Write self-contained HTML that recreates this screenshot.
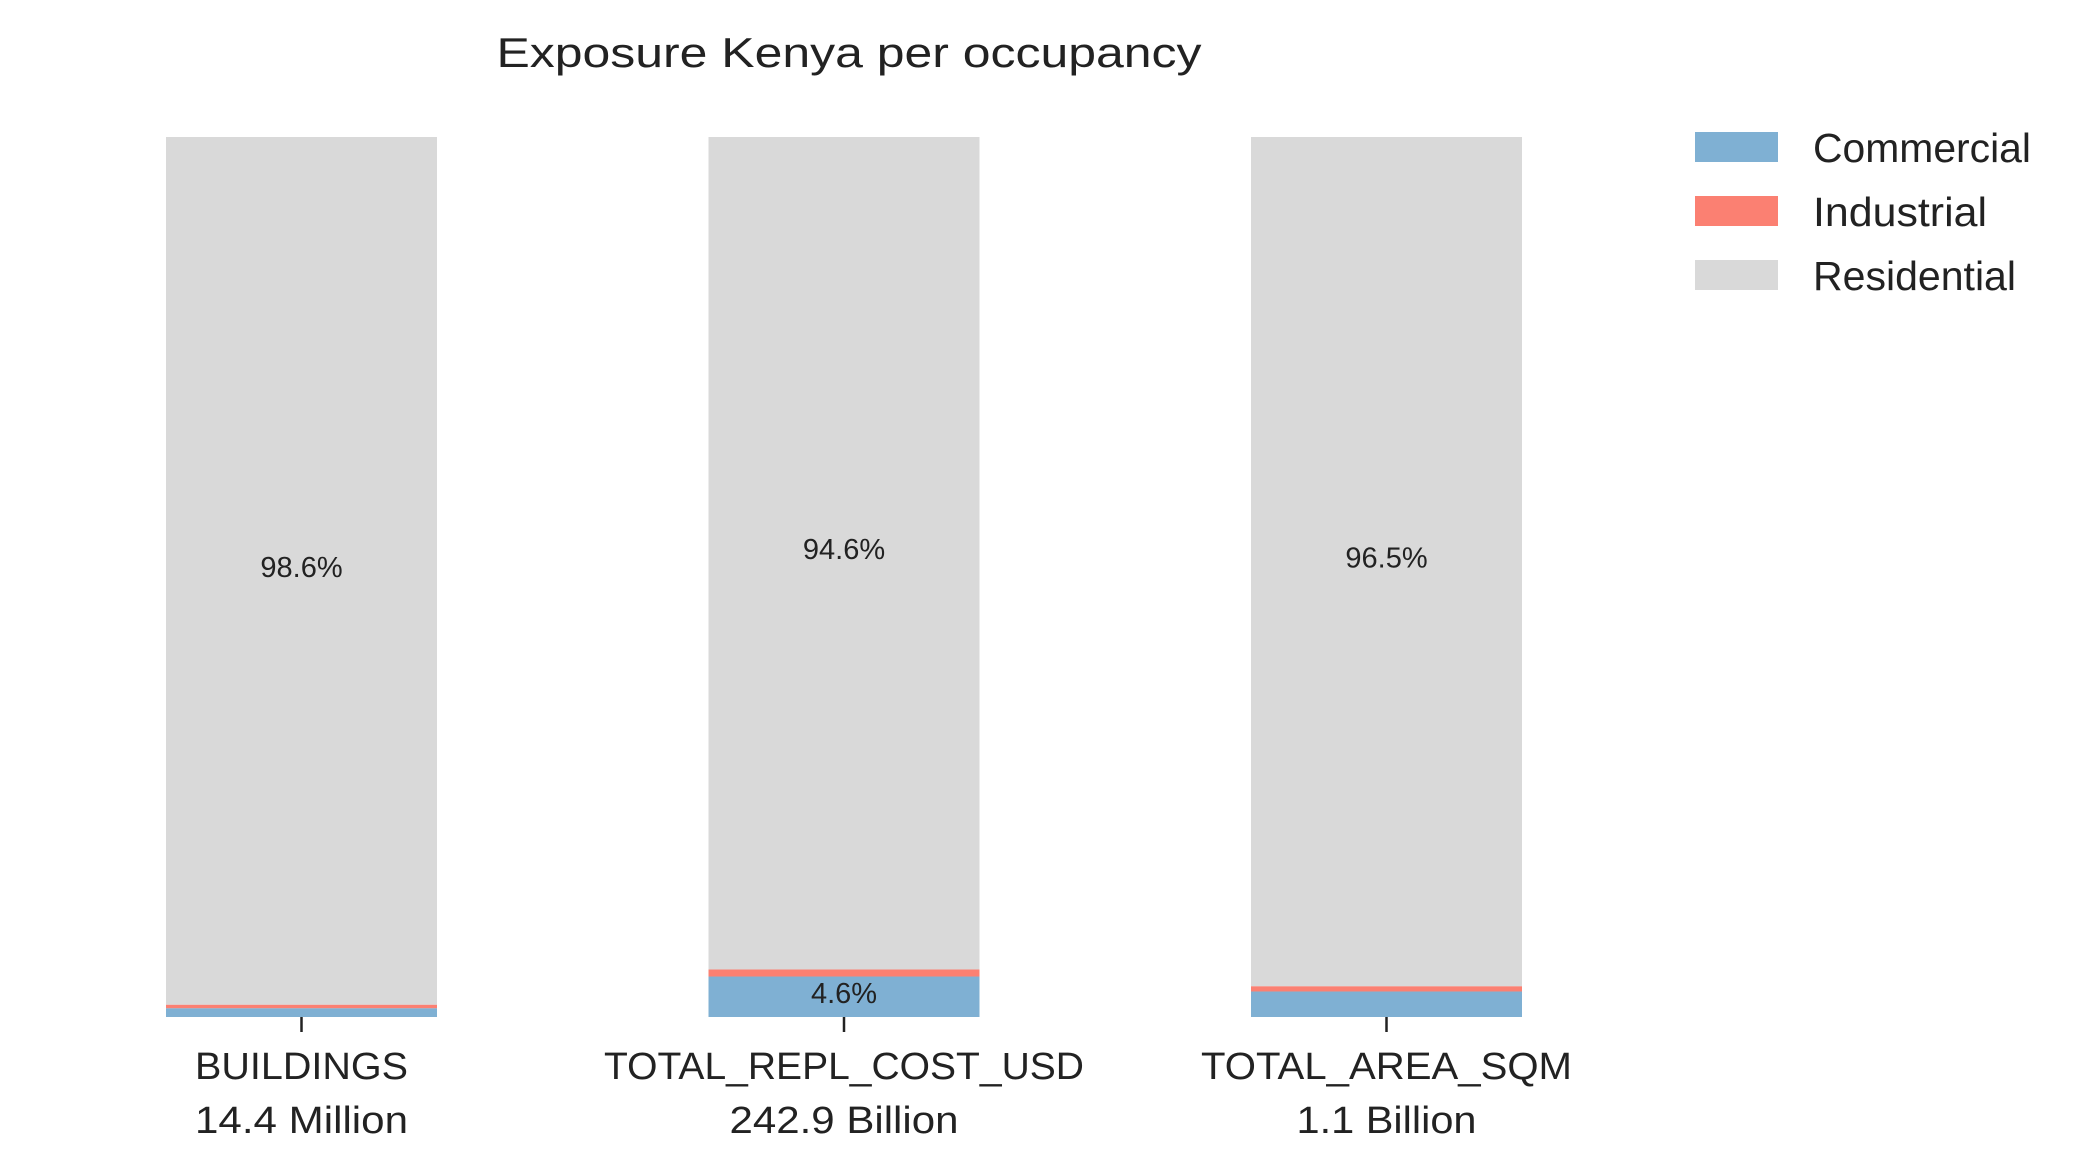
<!DOCTYPE html>
<html><head><meta charset="utf-8"><style>
html,body{margin:0;padding:0;background:#fff;}
svg{display:block;font-family:"Liberation Sans",sans-serif;}
</style></head><body>
<svg id="chart" width="2081" height="1174" viewBox="0 0 2081 1174">
<text x="849" y="67" text-anchor="middle" font-size="42" textLength="705" lengthAdjust="spacingAndGlyphs" fill="#222">Exposure Kenya per occupancy</text>
<g id="bars"></g>
<g id="legend"></g>
</svg>
<script>
const categories = ["BUILDINGS", "TOTAL_REPL_COST_USD", "TOTAL_AREA_SQM"];
const totals = ["14.4 Million", "242.9 Billion", "1.1 Billion"];
const commercial = [1.0, 4.6, 2.9];
const industrial = [0.4, 0.8, 0.6];
const residential = [98.6, 94.6, 96.5];
const seriesNames = ["Commercial", "Industrial", "Residential"];
const seriesColors = ["#7fb0d3", "#fb8072", "#d9d9d9"];

const NS = "http://www.w3.org/2000/svg";
const plotTop = 137, plotBottom = 1017, barW = 271;
const catLen = [213, 480, 371];
const totLen = [213, 229, 180];
const xCenter = i => 301.5 + i * 542.5;
const yScale = v => plotBottom - (plotBottom - plotTop) * v / 100;
function mk(tag, attrs, parent) {
  const e = document.createElementNS(NS, tag);
  for (const k in attrs) e.setAttribute(k, attrs[k]);
  parent.appendChild(e);
  return e;
}
const gb = document.getElementById("bars");
const series = [commercial, industrial, residential];
categories.forEach((c, i) => {
  let cum = 0;
  series.forEach((s, j) => {
    const v = s[i];
    const r = mk("rect", {x: xCenter(i) - barW / 2, y: yScale(cum + v), width: barW, height: yScale(cum) - yScale(cum + v), fill: seriesColors[j]}, gb);
    
    
    if (v >= 4) {
      const t = mk("text", {x: xCenter(i), y: (yScale(cum) + yScale(cum + v)) / 2 + 6, "text-anchor": "middle", "font-size": "29", fill: "#222"}, gb);
      t.textContent = v.toFixed(1) + "%";
      
      
    }
    cum += v;
  });
  const tick = mk("line", {x1: xCenter(i), x2: xCenter(i), y1: plotBottom, y2: plotBottom + 15, stroke: "#222", "stroke-width": "2.5"}, gb);
  
  
  const l1 = mk("text", {x: xCenter(i), y: 1079, "text-anchor": "middle", "font-size": "38", textLength: catLen[i], lengthAdjust: "spacingAndGlyphs", fill: "#222"}, gb);
  l1.textContent = c;
  
  
  const l2 = mk("text", {x: xCenter(i), y: 1133, "text-anchor": "middle", "font-size": "38", textLength: totLen[i], lengthAdjust: "spacingAndGlyphs", fill: "#222"}, gb);
  l2.textContent = totals[i];
  
  
});
const legLen = [218, 174, 203];
const gl = document.getElementById("legend");
seriesNames.forEach((n, j) => {
  const cy = 147 + j * 64;
  const r = mk("rect", {x: 1695, y: cy - 15, width: 83, height: 30, fill: seriesColors[j]}, gl);
  
  
  const t = mk("text", {x: 1813, y: cy + 15, "font-size": "41", textLength: legLen[j], lengthAdjust: "spacingAndGlyphs", fill: "#222"}, gl);
  t.textContent = n;
  
  
});
</script>
</body></html>
